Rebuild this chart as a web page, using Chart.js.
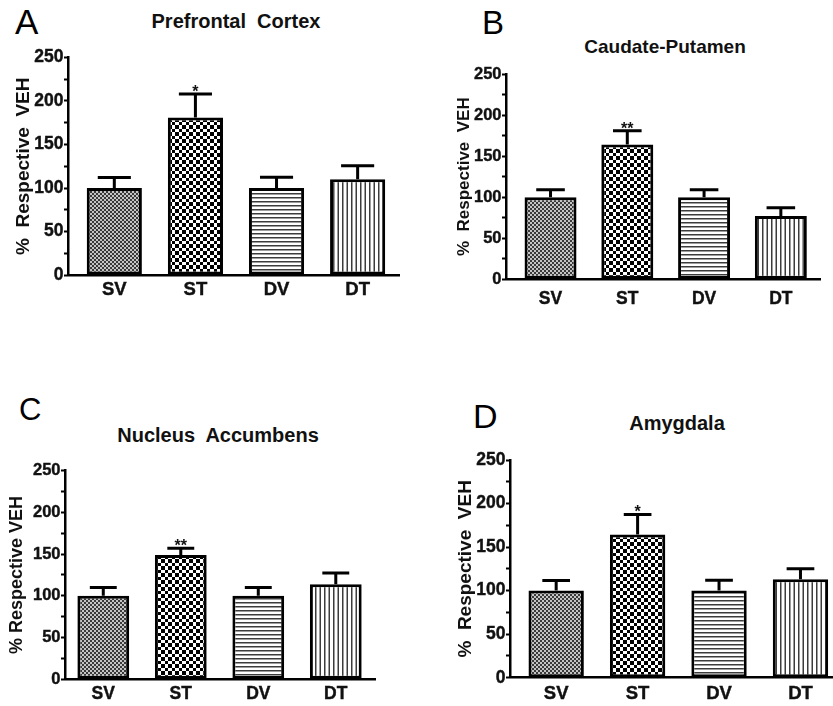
<!DOCTYPE html>
<html>
<head>
<meta charset="utf-8">
<script src="https://cdn.jsdelivr.net/npm/chart.js@4.4.0/dist/chart.umd.min.js"></script>
<style>
  html, body { margin: 0; padding: 0; background: #fff; overflow: hidden; }
  body { width: 833px; height: 706px; position: relative; font-family: "Liberation Sans", Arial, sans-serif; color: #000; }
  canvas { position: absolute; }
  .letter { position: absolute; line-height: 1; font-weight: normal; }
  .title { position: absolute; line-height: 1; font-weight: bold; white-space: pre; transform: translateX(-50%); color: #111; }
</style>
</head>
<body>
<div class="letter" style="left:15px;top:4px;font-size:35px">A</div>
<div class="letter" style="left:482px;top:6px;font-size:33px">B</div>
<div class="letter" style="left:19px;top:394px;font-size:31px">C</div>
<div class="letter" style="left:473px;top:399px;font-size:34px">D</div>
<div class="title" style="left:236px;top:11px;font-size:20px">Prefrontal  Cortex</div>
<div class="title" style="left:665px;top:37px;font-size:19px">Caudate-Putamen</div>
<div class="title" style="left:218px;top:425px;font-size:20px">Nucleus  Accumbens</div>
<div class="title" style="left:677px;top:413px;font-size:20px">Amygdala</div>
<script>
const categories = ['SV', 'ST', 'DV', 'DT'];

// Prefrontal Cortex
const pfcMeans = [100, 181, 100, 110];
const pfcErrors = [12, 27, 12.5, 15.5];
const pfcSig = ['', '*', '', ''];

// Caudate-Putamen
const cpuMeans = [100, 164, 100, 77];
const cpuErrors = [9, 17, 9, 10];
const cpuSig = ['', '**', '', ''];

// Nucleus Accumbens
const naccMeans = [100, 149, 100, 114];
const naccErrors = [10, 8, 10, 13.5];
const naccSig = ['', '**', '', ''];

// Amygdala
const amyMeans = [100, 164.5, 100, 113];
const amyErrors = [11.5, 23, 12, 12];
const amySig = ['', '*', '', ''];

const yMax = 250;
const yMinorStep = 25;
const yLabelStep = 50;
const yTitle = '%  Respective  VEH';

Chart.defaults.font.family = '"Liberation Sans", Arial, sans-serif';
Chart.defaults.color = '#000';

// fill patterns, one per group
function makeTile(w, h, draw) {
  const c = document.createElement('canvas');
  c.width = w;
  c.height = h;
  const g = c.getContext('2d');
  g.fillStyle = '#fff';
  g.fillRect(0, 0, w, h);
  draw(g);
  return c;
}

const tiles = [
  // SV: fine grey checker
  makeTile(4, 4, (g) => {
    g.fillStyle = '#3a3a3a';
    g.fillRect(0, 0, 2, 2);
    g.fillRect(2, 2, 2, 2);
    g.fillStyle = '#c4c4c4';
    g.fillRect(2, 0, 2, 2);
    g.fillRect(0, 2, 2, 2);
  }),
  // ST: coarse black checker
  makeTile(14, 14, (g) => {
    const edges = [0, 4, 7, 11, 14];
    g.fillStyle = '#000';
    for (let i = 0; i < 4; i++) {
      for (let j = 0; j < 4; j++) {
        if ((i + j) % 2 === 0) g.fillRect(edges[i], edges[j], edges[i + 1] - edges[i], edges[j + 1] - edges[j]);
      }
    }
  }),
  // DV: horizontal lines
  makeTile(4, 4, (g) => {
    g.fillStyle = '#3c3c3c';
    g.fillRect(0, 0, 4, 1.5);
  }),
  // DT: vertical lines
  makeTile(9, 9, (g) => {
    g.fillStyle = '#3c3c3c';
    g.fillRect(0, 0, 1.5, 9);
    g.fillRect(4.5, 0, 1.5, 9);
  }),
];

const patternCache = new WeakMap();
function patternFor(chart, i) {
  if (!patternCache.has(chart)) {
    patternCache.set(chart, tiles.map((t) => chart.ctx.createPattern(t, 'repeat')));
  }
  return patternCache.get(chart)[i];
}

const errorBarPlugin = {
  id: 'errorBars',
  afterDatasetsDraw(chart, args, opts) {
    const { ctx } = chart;
    const y = chart.scales.y;
    const meta = chart.getDatasetMeta(0);
    const values = chart.data.datasets[0].data;
    ctx.save();
    ctx.strokeStyle = '#000';
    ctx.lineWidth = opts.lineWidth;
    ctx.fillStyle = '#111';
    meta.data.forEach((bar, i) => {
      const top = y.getPixelForValue(values[i] + opts.errors[i]);
      const half = (bar.width * opts.capRatio) / 2;
      ctx.beginPath();
      ctx.moveTo(bar.x, bar.y);
      ctx.lineTo(bar.x, top);
      ctx.moveTo(bar.x - half, top);
      ctx.lineTo(bar.x + half, top);
      ctx.stroke();
      if (opts.marks[i]) {
        ctx.font = 'bold ' + opts.markSize + 'px "Liberation Sans", Arial, sans-serif';
        ctx.textAlign = 'center';
        ctx.textBaseline = 'alphabetic';
        ctx.fillText(opts.marks[i], bar.x, top + 3);
      }
    });
    ctx.restore();
  },
};

function makePanel(p) {
  const canvas = document.createElement('canvas');
  const top = Math.floor(p.plotTop - 16);
  const padTop = p.plotTop - top;
  const height = Math.ceil(p.plotBottom + 40 - top);
  const xh = height - (p.plotBottom - top);
  const width = Math.ceil(p.plotRight + 16 - p.left);
  const padRight = width - (p.plotRight - p.left);
  canvas.width = width;
  canvas.height = height;
  canvas.style.left = p.left + 'px';
  canvas.style.top = top + 'px';
  document.body.appendChild(canvas);

  new Chart(canvas, {
    type: 'bar',
    data: {
      labels: categories.map((c, i) => i),
      datasets: [
        {
          data: p.means,
          backgroundColor: (c) => patternFor(c.chart, c.dataIndex),
          borderColor: '#000',
          borderWidth: 3,
          borderSkipped: false,
          categoryPercentage: 1,
          barPercentage: p.barPct,
        },
      ],
    },
    options: {
      responsive: false,
      animation: false,
      layout: { padding: { top: padTop, right: padRight, bottom: 0, left: 0 } },
      scales: {
        x: {
          type: 'linear',
          offset: false,
          min: p.xMin,
          max: p.xMax,
          afterBuildTicks: (s) => {
            s.ticks = categories.map((c, i) => ({ value: i }));
          },
          afterFit: (s) => {
            s.height = xh;
          },
          grid: { display: false, drawTicks: false },
          border: { display: true, color: '#000', width: 2.5 },
          ticks: {
            autoSkip: false,
            maxRotation: 0,
            padding: p.xPad,
            font: { size: p.tickSize + 1, weight: 'bold' },
            color: '#111',
            textStrokeColor: '#111',
            textStrokeWidth: 0.4,
            callback: (v) => categories[v],
          },
        },
        y: {
          min: 0,
          max: yMax,
          afterFit: (s) => {
            s.width = p.plotLeft - p.left;
          },
          grid: {
            drawOnChartArea: false,
            drawTicks: true,
            tickLength: 4,
            tickWidth: 2,
            tickColor: '#000',
          },
          border: { display: true, color: '#000', width: 2.5 },
          ticks: {
            stepSize: yMinorStep,
            autoSkip: false,
            padding: 0.5,
            font: { size: p.tickSize, weight: 'bold' },
            color: '#111',
            textStrokeColor: '#111',
            textStrokeWidth: 0.4,
            callback: (v) => (v % yLabelStep === 0 ? v : ''),
          },
          title: {
            display: true,
            text: p.yTitle,
            color: '#111',
            font: { size: p.yTitleSize, weight: 'bold' },
            padding: { top: p.yTitlePad, bottom: 0 },
          },
        },
      },
      plugins: {
        legend: { display: false },
        tooltip: { enabled: false },
        errorBars: {
          errors: p.errors,
          marks: p.marks,
          capRatio: p.capRatio,
          lineWidth: 3,
          markSize: 16,
        },
      },
    },
    plugins: [errorBarPlugin],
  });
}

makePanel({
  left: 0, plotLeft: 68, plotRight: 399, plotTop: 57.5, plotBottom: 275,
  xMin: -0.571, xMax: 3.51, barPct: 0.68, xPad: 4,
  tickSize: 17.5, yTitle: yTitle, yTitleSize: 19, yTitlePad: 12, capRatio: 0.6,
  means: pfcMeans, errors: pfcErrors, marks: pfcSig,
});

makePanel({
  left: 420, plotLeft: 506, plotRight: 820, plotTop: 74, plotBottom: 279.3,
  xMin: -0.58, xMax: 3.51, barPct: 0.677, xPad: 9,
  tickSize: 16.5, yTitle: yTitle, yTitleSize: 17, yTitlePad: 34.5, capRatio: 0.55,
  means: cpuMeans, errors: cpuErrors, marks: cpuSig,
});

makePanel({
  left: 0, plotLeft: 65, plotRight: 375, plotTop: 470.7, plotBottom: 679.3,
  xMin: -0.494, xMax: 3.506, barPct: 0.668, xPad: 4.5,
  tickSize: 16.5, yTitle: '% Respective VEH', yTitleSize: 18, yTitlePad: 6.5, capRatio: 0.52,
  means: naccMeans, errors: naccErrors, marks: naccSig,
});

makePanel({
  left: 420, plotLeft: 510, plotRight: 842, plotTop: 460, plotBottom: 677.7,
  xMin: -0.567, xMax: 3.51, barPct: 0.68, xPad: 5.5,
  tickSize: 17.5, yTitle: yTitle, yTitleSize: 19, yTitlePad: 34, capRatio: 0.5,
  means: amyMeans, errors: amyErrors, marks: amySig,
});
</script>
</body>
</html>
